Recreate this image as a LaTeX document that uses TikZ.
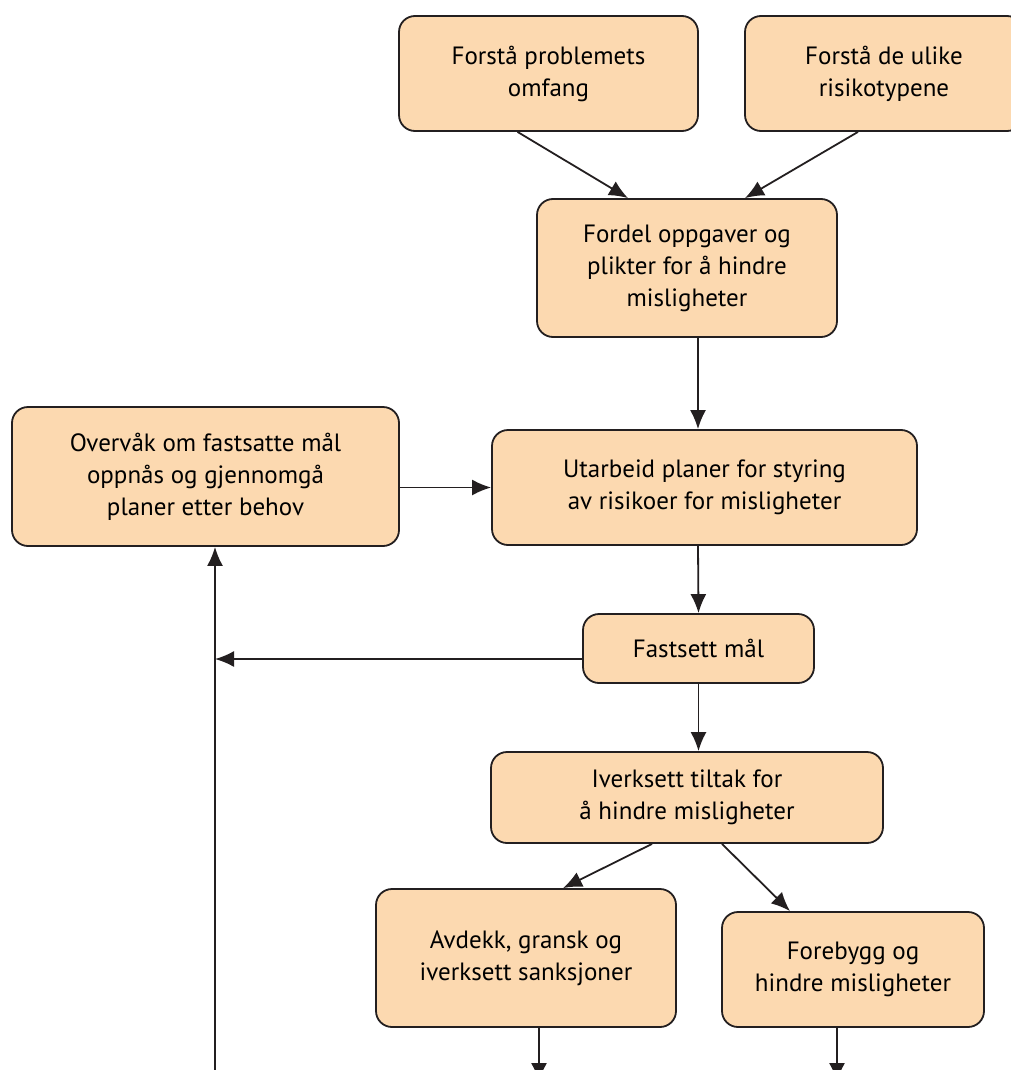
\documentclass[tikz,border=0pt]{standalone}
\usepackage{fontspec}
\setmainfont{PT Sans}
\usetikzlibrary{arrows.meta}
\definecolor{boxfill}{HTML}{FCD9B0}
\definecolor{inkline}{HTML}{231F20}
\tikzset{
  stepbox/.style={draw=inkline,fill=boxfill,line width=1.8pt,rounded corners=16pt,
    align=center,inner sep=0pt,font=\fontsize{25}{32}\selectfont},
  flow/.style={draw=inkline,line width=1.8pt,-{Latex[length=19pt,width=16pt]}}
}
\begin{document}
\begin{tikzpicture}[x=1pt,y=-1pt]
 \useasboundingbox (0,0) rectangle (1010,1070);
 \node[stepbox,minimum width=299pt,minimum height=115pt] (omfang) at (548.5,73.5) {Forstå problemets\\omfang};
 \node[stepbox,minimum width=278pt,minimum height=115pt] (typer) at (884,73.5) {Forstå de ulike\\risikotypene};
 \node[stepbox,minimum width=300pt,minimum height=138pt] (fordel) at (687,268) {Fordel oppgaver og\\plikter for å hindre\\misligheter};
 \node[stepbox,minimum width=425pt,minimum height=115pt] (plan) at (704.5,487.5) {Utarbeid planer for styring\\av risikoer for misligheter};
 \node[stepbox,minimum width=387pt,minimum height=139pt] (overvak) at (205.5,476.5) {Overvåk om fastsatte mål\\oppnås og gjennomgå\\planer etter behov};
 \node[stepbox,minimum width=231pt,minimum height=69pt] (maal) at (698.5,648.5) {Fastsett mål};
 \node[stepbox,minimum width=392pt,minimum height=91pt] (tiltak) at (687,797.5) {Iverksett tiltak for\\å hindre misligheter};
 \node[stepbox,minimum width=300pt,minimum height=138pt] (avdekk) at (526,958) {Avdekk, gransk og\\iverksett sanksjoner};
 \node[stepbox,minimum width=262pt,minimum height=115pt] (forebygg) at (853,969.5) {Forebygg og\\hindre misligheter};
 \coordinate (footL) at (215,1080);
 \coordinate (footA) at (539,1082);
 \coordinate (footF) at (837,1082);
 % arrows between steps
 \draw[flow] (omfang.south) ++(-31,0) -- ([xshift=-59pt]fordel.north);
 \draw[flow] (typer.south) ++(-26,0) -- ([xshift=58pt]fordel.north);
 \draw[flow] ([xshift=11pt]fordel.south) -- ([xshift=-6.5pt]plan.north);
 \draw[flow] (overvak.east |- plan.west) -- (plan.west);
 \draw[flow] ([xshift=-6.5pt]plan.south) -- (maal.north);
 \draw[flow] ([yshift=-10.5pt]maal.west) -- ([yshift=-10.5pt]maal.west -| footL);
 \draw[flow] (footL) -- (footL |- overvak.south);
 \draw[flow] (maal.south) -- ([xshift=11.5pt]tiltak.north);
 \draw[flow] ([xshift=-35pt]tiltak.south) -- ([xshift=37pt]avdekk.north);
 \draw[flow] ([xshift=35pt]tiltak.south) -- ([xshift=-63pt]forebygg.north);
 \draw[flow] (avdekk.south -| footA) -- (footA);
 \draw[flow] (forebygg.south -| footF) -- (footF);
\end{tikzpicture}
\end{document}
